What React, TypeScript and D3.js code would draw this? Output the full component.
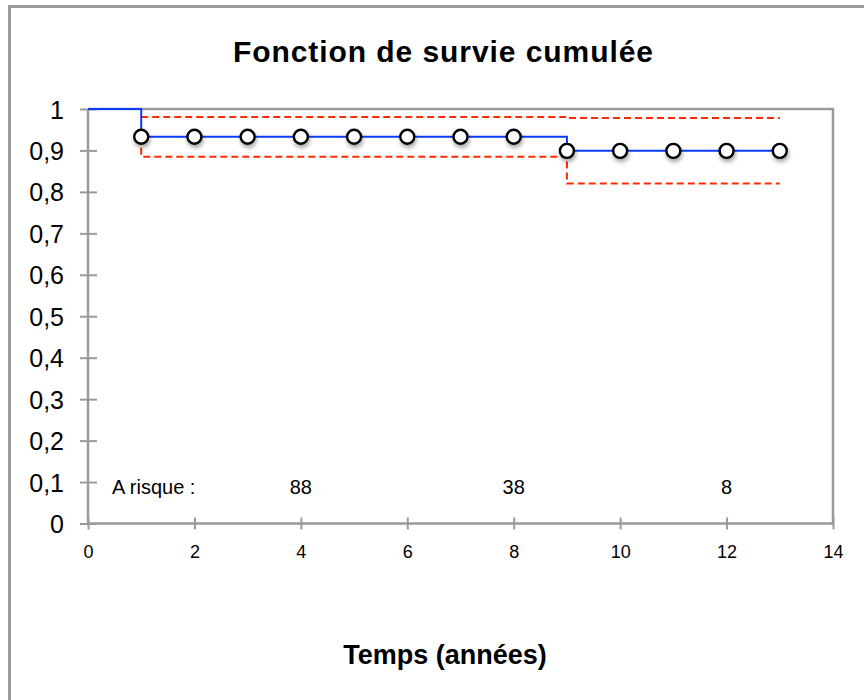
import { useEffect, useRef } from 'react';
import * as d3 from 'd3';

// survival steps: [time, value]
const survivalSteps: [number, number][] = [[0, 1], [1, 0.933], [9, 0.899], [13, 0.899]];
const upperSteps: [number, number][] = [[1, 0.981], [9, 0.978], [13, 0.978]];
const lowerSteps: [number, number][] = [[1, 0.885], [9, 0.82], [13, 0.82]];
const markerTimes = [1, 2, 3, 4, 5, 6, 7, 8, 9, 10, 11, 12, 13];
const markerValues = [0.933, 0.933, 0.933, 0.933, 0.933, 0.933, 0.933, 0.933, 0.899, 0.899, 0.899, 0.899, 0.899];
const atRiskTimes = [4, 8, 12];
const atRiskCounts = ['88', '38', '8'];
const yTicks = [0, 0.1, 0.2, 0.3, 0.4, 0.5, 0.6, 0.7, 0.8, 0.9, 1];
const xTicks = [0, 2, 4, 6, 8, 10, 12, 14];

const W = 864;
const H = 700;

const App = () => {
  const svgRef = useRef<SVGSVGElement>(null);

  useEffect(() => {
    if (!svgRef.current) return;
    const svg = d3.select(svgRef.current);
    svg.selectAll('*').remove();

    const x = d3.scaleLinear().domain([0, 14]).range([88, 833]);
    const y = d3.scaleLinear().domain([0, 1]).range([523.5, 109]);
    const grey = '#9a9a9a';
    const font = "'Liberation Sans', Arial, sans-serif";

    const defs = svg.append('defs');
    const f = defs.append('filter').attr('id', 'shadow').attr('x', '-50%').attr('y', '-50%').attr('width', '200%').attr('height', '220%');
    f.append('feDropShadow').attr('dx', 1).attr('dy', 3).attr('stdDeviation', 2).attr('flood-color', '#000').attr('flood-opacity', 0.35);

    // outer frame
    svg.append('rect').attr('x', 9.5).attr('y', 6.5).attr('width', W + 20).attr('height', H + 20)
      .attr('fill', '#fff').attr('stroke', '#999').attr('stroke-width', 3);

    // title
    svg.append('text').attr('x', 443).attr('y', 62).attr('text-anchor', 'middle')
      .attr('font-family', font).attr('font-weight', 'bold').attr('font-size', 30)
      .attr('textLength', 420)
      .text('Fonction de survie cumulée');

    // plot frame top and right
    svg.append('path')
      .attr('d', `M${x(0)},${y(1)}H${x(14)}V${y(0)}`)
      .attr('fill', 'none').attr('stroke', grey).attr('stroke-width', 2.5);

    // y axis
    const yAxis = svg.append('g').attr('transform', `translate(${x(0)},0)`)
      .call(d3.axisLeft(y).tickValues(yTicks).tickSize(8).tickPadding(16)
        .tickFormat(d => d3.format('.1~f')(d as number).replace('.', ',')));
    yAxis.select('.domain').remove();
    yAxis.selectAll('.tick line').attr('x2', 9).attr('x1', -8).attr('stroke', grey).attr('stroke-width', 2);
    yAxis.selectAll('.tick text').attr('font-family', font).attr('font-size', 25).attr('fill', '#000').attr('dy', '0.36em');
    svg.append('line').attr('x1', x(0)).attr('x2', x(0)).attr('y1', y(1)).attr('y2', y(0))
      .attr('stroke', grey).attr('stroke-width', 2.5);

    // x axis
    const xAxis = svg.append('g').attr('transform', `translate(0,${y(0)})`)
      .call(d3.axisBottom(x).tickValues(xTicks).tickSize(6).tickPadding(16));
    xAxis.select('.domain').remove();
    xAxis.selectAll('.tick line').attr('y1', -6).attr('y2', 6).attr('stroke', grey).attr('stroke-width', 2);
    xAxis.selectAll('.tick text').attr('font-family', font).attr('font-size', 18).attr('fill', '#000');
    svg.append('line').attr('x1', x(0)).attr('x2', x(14)).attr('y1', y(0)).attr('y2', y(0))
      .attr('stroke', grey).attr('stroke-width', 2.5);

    // x axis title
    svg.append('text').attr('x', 445).attr('y', 664).attr('text-anchor', 'middle')
      .attr('font-family', font).attr('font-weight', 'bold').attr('font-size', 27)
      .text('Temps (années)');

    // at risk
    svg.append('text').attr('x', 112).attr('y', 494)
      .attr('font-family', font).attr('font-size', 20).text('A risque :');
    svg.selectAll('.risk').data(atRiskTimes).join('text').attr('class', 'risk')
      .attr('x', d => x(d)).attr('y', 494).attr('text-anchor', 'middle')
      .attr('font-family', font).attr('font-size', 20).text((d, i) => atRiskCounts[i]);

    const step = d3.line<[number, number]>().x(d => x(d[0])).y(d => y(d[1])).curve(d3.curveStepAfter);

    // upper CI
    svg.append('path').datum(upperSteps).attr('d', step)
      .attr('fill', 'none').attr('stroke', '#ff2a00').attr('stroke-width', 2).attr('stroke-dasharray', '7,4');

    // lower CI: drops start from the survival level
    const lp: [number, number][] = [
      [lowerSteps[0][0], survivalSteps[1][1]],
      lowerSteps[0],
      [lowerSteps[1][0], lowerSteps[0][1]],
      [lowerSteps[1][0], survivalSteps[2][1]],
      lowerSteps[1],
      lowerSteps[2],
    ];
    svg.append('path').datum(lp).attr('d', d3.line<[number, number]>().x(d => x(d[0])).y(d => y(d[1])))
      .attr('fill', 'none').attr('stroke', '#ff2a00').attr('stroke-width', 2).attr('stroke-dasharray', '7,4');

    // survival
    svg.append('path').datum(survivalSteps).attr('d', step)
      .attr('fill', 'none').attr('stroke', '#0a3cff').attr('stroke-width', 2);

    // markers
    svg.selectAll('.mk').data(markerTimes).join('circle').attr('class', 'mk')
      .attr('cx', d => x(d)).attr('cy', (d, i) => y(markerValues[i])).attr('r', 7)
      .attr('fill', '#fff').attr('stroke', '#000').attr('stroke-width', 2.4)
      .attr('filter', 'url(#shadow)');
  }, []);

  return (
    <svg ref={svgRef} width={W} height={H}
      style={{ position: 'absolute', left: 0, top: 0, display: 'block' }} />
  );
};

export default App;
